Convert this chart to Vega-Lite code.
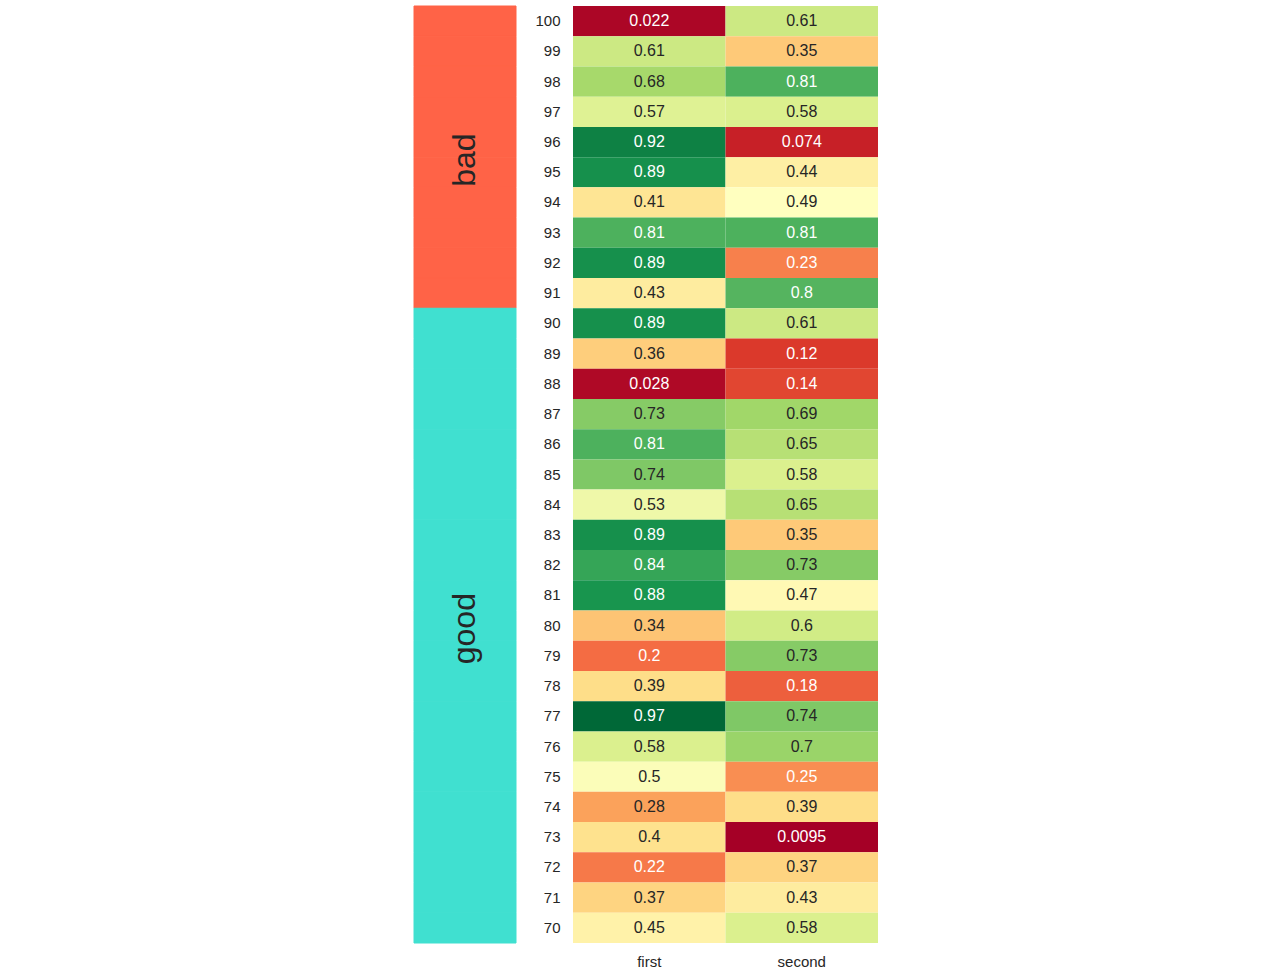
{
  "$schema": "https://vega.github.io/schema/vega-lite/v6.json",
  "background": "white",
  "padding": {"left": 413, "top": 5, "right": 5, "bottom": 5},
  "config": {
    "view": {"stroke": null},
    "font": "Liberation Sans",
    "axis": {"domain": false, "ticks": false, "grid": false, "labelFontSize": 15, "labelColor": "#262626", "title": null}
  },
  "datasets": {
    "rows": [
      {"index": 100, "group": "bad", "first": 0.022, "second": 0.61},
      {"index": 99, "group": "bad", "first": 0.61, "second": 0.35},
      {"index": 98, "group": "bad", "first": 0.68, "second": 0.81},
      {"index": 97, "group": "bad", "first": 0.57, "second": 0.58},
      {"index": 96, "group": "bad", "first": 0.92, "second": 0.074},
      {"index": 95, "group": "bad", "first": 0.89, "second": 0.44},
      {"index": 94, "group": "bad", "first": 0.41, "second": 0.49},
      {"index": 93, "group": "bad", "first": 0.81, "second": 0.81},
      {"index": 92, "group": "bad", "first": 0.89, "second": 0.23},
      {"index": 91, "group": "bad", "first": 0.43, "second": 0.8},
      {"index": 90, "group": "good", "first": 0.89, "second": 0.61},
      {"index": 89, "group": "good", "first": 0.36, "second": 0.12},
      {"index": 88, "group": "good", "first": 0.028, "second": 0.14},
      {"index": 87, "group": "good", "first": 0.73, "second": 0.69},
      {"index": 86, "group": "good", "first": 0.81, "second": 0.65},
      {"index": 85, "group": "good", "first": 0.74, "second": 0.58},
      {"index": 84, "group": "good", "first": 0.53, "second": 0.65},
      {"index": 83, "group": "good", "first": 0.89, "second": 0.35},
      {"index": 82, "group": "good", "first": 0.84, "second": 0.73},
      {"index": 81, "group": "good", "first": 0.88, "second": 0.47},
      {"index": 80, "group": "good", "first": 0.34, "second": 0.6},
      {"index": 79, "group": "good", "first": 0.2, "second": 0.73},
      {"index": 78, "group": "good", "first": 0.39, "second": 0.18},
      {"index": 77, "group": "good", "first": 0.97, "second": 0.74},
      {"index": 76, "group": "good", "first": 0.58, "second": 0.7},
      {"index": 75, "group": "good", "first": 0.5, "second": 0.25},
      {"index": 74, "group": "good", "first": 0.28, "second": 0.39},
      {"index": 73, "group": "good", "first": 0.4, "second": 0.0095},
      {"index": 72, "group": "good", "first": 0.22, "second": 0.37},
      {"index": 71, "group": "good", "first": 0.37, "second": 0.43},
      {"index": 70, "group": "good", "first": 0.45, "second": 0.58}
    ]
  },
  "bounds": "flush",
  "spacing": 57,
  "hconcat": [
    {
      "width": 102,
      "height": 937,
      "data": {"name": "rows"},
      "resolve": {"scale": {"y": "independent"}},
      "layer": [
        {
          "mark": {"type": "rect", "strokeWidth": 1},
          "encoding": {
            "y": {"field": "index", "type": "ordinal", "sort": "descending", "axis": null,
                  "scale": {"paddingInner": 0, "paddingOuter": 0}},
            "color": {"field": "group", "type": "nominal", "legend": null,
                      "scale": {"domain": ["bad", "good"], "range": ["#ff6347", "#40e0d0"]}},
            "stroke": {"field": "group", "type": "nominal", "legend": null,
                       "scale": {"domain": ["bad", "good"], "range": ["#ff6347", "#40e0d0"]}}
          }
        },
        {
          "mark": {"type": "text", "angle": 270, "fontSize": 32, "align": "center", "baseline": "middle", "color": "#262626", "dx": -3},
          "encoding": {
            "y": {"aggregate": "mean", "field": "index", "type": "quantitative", "axis": null,
                  "scale": {"domain": [69.5, 100.5], "nice": false, "zero": false}},
            "text": {"field": "group", "type": "nominal"}
          }
        }
      ]
    },
    {
      "width": 305,
      "height": 937,
      "data": {"name": "rows"},
      "transform": [{"fold": ["first", "second"], "as": ["column", "value"]}],
      "encoding": {
        "y": {"field": "index", "type": "ordinal", "sort": "descending",
              "scale": {"paddingInner": 0, "paddingOuter": 0},
              "axis": {"labelPadding": 13, "labelAngle": 0}},
        "x": {"field": "column", "type": "nominal", "sort": ["first", "second"],
              "scale": {"paddingInner": 0, "paddingOuter": 0},
              "axis": {"orient": "bottom", "labelAngle": 0, "labelPadding": 11}}
      },
      "layer": [
        {
          "mark": {"type": "rect"},
          "encoding": {
            "color": {"field": "value", "type": "quantitative", "legend": null,
                      "scale": {
                        "domain": [0.0095, 0.10555, 0.2016, 0.29765, 0.3937, 0.48975, 0.5858, 0.68185, 0.7779, 0.87395, 0.97],
                        "range": ["#a50026", "#d73027", "#f46d43", "#fdae61", "#fee08b", "#ffffbf", "#d9ef8b", "#a6d96a", "#66bd63", "#1a9850", "#006837"],
                        "interpolate": "rgb"
                      }}
          }
        },
        {
          "mark": {"type": "text", "fontSize": 16, "align": "center", "baseline": "middle"},
          "encoding": {
            "text": {"field": "value", "type": "nominal"},
            "color": {
              "condition": {"test": "datum.value < 0.265 || datum.value > 0.77", "value": "white"},
              "value": "#262626"
            }
          }
        }
      ]
    }
  ]
}
